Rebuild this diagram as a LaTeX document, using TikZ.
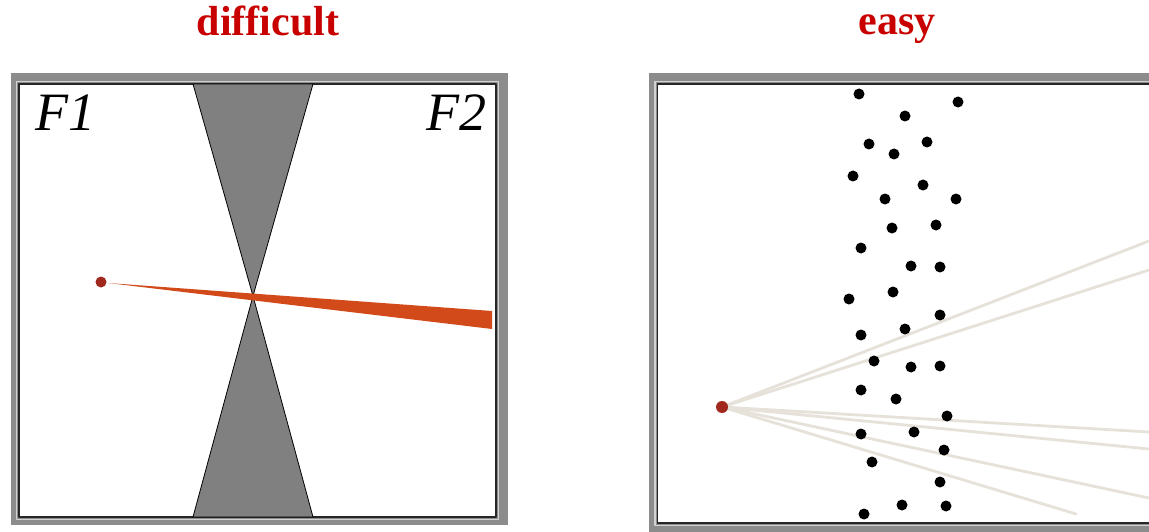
\documentclass[tikz,border=0pt]{standalone}
\usepackage{fontspec}
\setmainfont{Liberation Serif}
\definecolor{titlered}{RGB}{200,0,0}
\definecolor{framegray}{RGB}{140,140,140}
\definecolor{bevelgray}{RGB}{210,210,210}
\definecolor{conegray}{RGB}{128,128,128}
\definecolor{beamorange}{RGB}{210,74,26}
\definecolor{srcred}{RGB}{160,40,28}
\definecolor{raygray}{RGB}{230,226,218}
\begin{document}
\begin{tikzpicture}[
    x=1pt, y=-1pt,
    line cap=round,
    line join=round,
    frame/.style={fill=framegray},
    rim/.style={draw=bevelgray, line width=1.5pt},
    inner/.style={draw=black!85, fill=white, line width=1.3pt},
    cone/.style={fill=conegray, draw=black, line width=0.8pt},
    beam/.style={fill=beamorange},
    src/.style={circle, fill=srcred, inner sep=0pt, minimum size=12pt},
    dot/.style={circle, fill=black, inner sep=0pt, minimum size=11pt},
    sight/.style={draw=raygray, line width=2.8pt},
    title/.style={font=\fontsize{42}{42}\selectfont\bfseries, text=titlered, anchor=base},
    lab/.style={font=\fontsize{54}{54}\selectfont\itshape, inner sep=0pt}
]
\clip (0,0) rectangle (1149,532);

\begin{scope}
  \node[title] (tL) at (268,36) {difficult};

  \fill[frame] (11,73) rectangle (508,525);
  \draw[rim] (16.5,81.5) rectangle (498.5,519.5);
  \draw[inner] (19,84) rectangle (496,517);

  \coordinate (X) at (253,296);
  \coordinate (TL) at (193,84);
  \coordinate (TR) at (313,84);
  \coordinate (BL) at (193,517);
  \coordinate (BR) at (313,517);

  \coordinate (tip) at (108,283);
  \coordinate (endT) at (492,311);
  \coordinate (endB) at (492,329);

  \draw[cone] (TL)--(TR)--(X)--cycle;
  \draw[cone] (BL)--(BR)--(X)--cycle;
  \fill[beam] (tip)--(endT)--(endB)--cycle;

  \node[src, minimum size=11pt] (srcL) at (101,282) {};

  \node[lab, anchor=base west] (F1) at (35,131) {F1};
  \node[lab, anchor=base east] (F2) at (487,131) {F2};
\end{scope}

\begin{scope}
  \node[title] (tR) at (897,35) {easy};

  \fill[frame] (649,73) rectangle (1170,540);
  \draw[rim] (655,81.5) rectangle (1170,525.5);
  \draw[inner] (657.5,84) rectangle (1170,523);

  \coordinate (S) at (722,407);
  \foreach \ex/\ey [count=\i] in {1149/241, 1149/270, 1149/432, 1149/449, 1149/498, 1076/514}{
    \coordinate (e\i) at (\ex,\ey);
    \draw[sight] (S) -- (e\i);
  }

  \foreach \dx/\dy [count=\i] in {
      859/94, 958/102, 905/116, 869/144, 927/142, 894/154, 853/176,
      923/185, 885/199, 956/199, 892/228, 936/225, 861/248,
      911/266, 940/267, 893/292, 849/299, 940/315, 905/329, 861/335,
      874/361, 911/367, 940/366, 861/390, 896/399, 947/416, 861/434,
      914/432, 944/450, 872/462, 940/482, 902/505, 946/506, 864/514}
    \node[dot] (d\i) at (\dx,\dy) {};

  \node[src] (srcR) at (S) {};
\end{scope}

\end{tikzpicture}
\end{document}
